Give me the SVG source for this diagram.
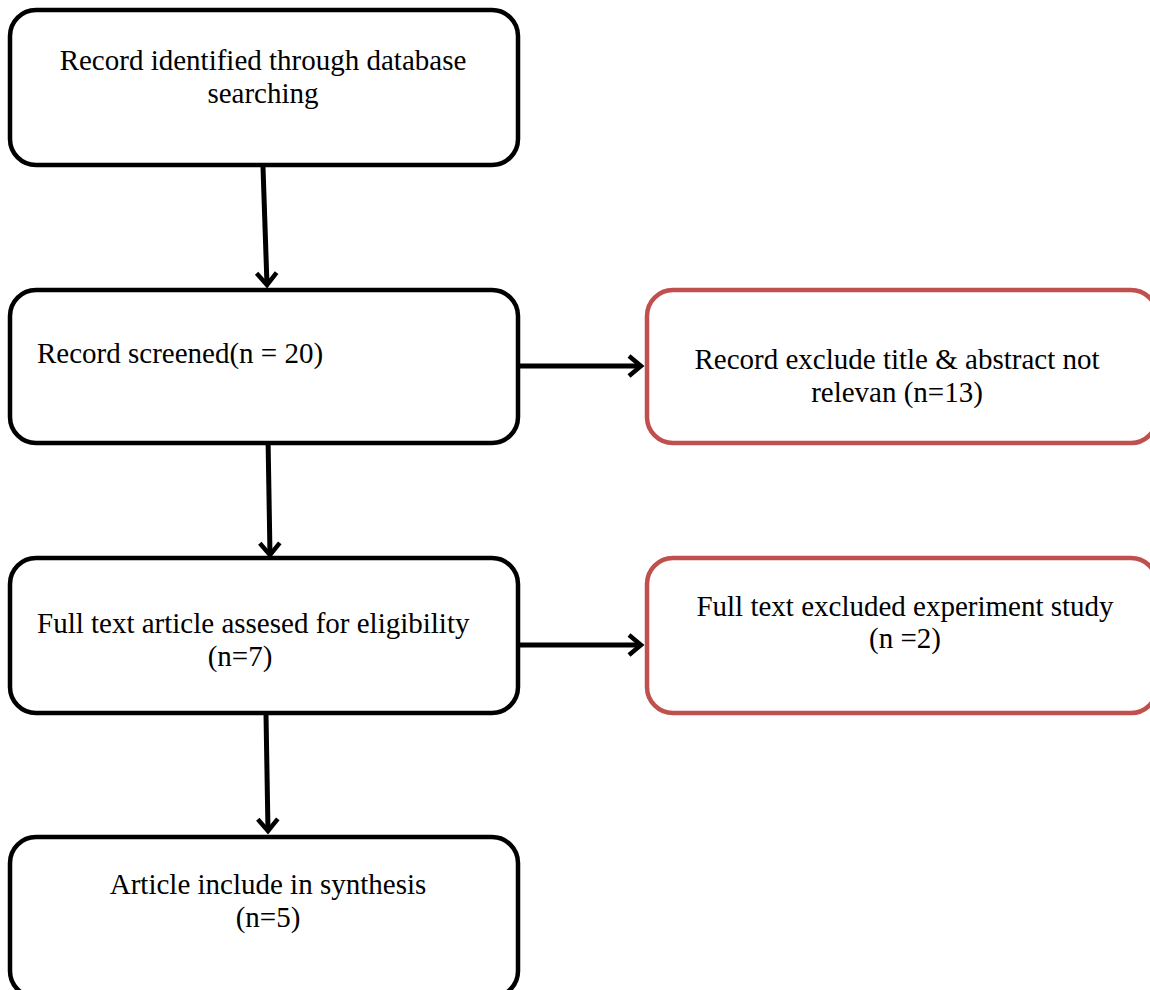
<svg xmlns="http://www.w3.org/2000/svg" width="1150" height="990" viewBox="0 0 1150 990">
<style>
.box{fill:#fff;stroke:#000;stroke-width:4.5}
.red{fill:#fff;stroke:#C0504D;stroke-width:4.5}
.t{font-family:"Liberation Serif","Times New Roman",serif;font-size:29px;fill:#000}
.c{text-anchor:middle}
.ln{stroke:#000;stroke-width:5;fill:none}
</style>
<defs>
<marker id="ah" markerWidth="10" markerHeight="10" refX="8" refY="5" orient="auto" markerUnits="userSpaceOnUse" viewBox="0 0 10 10" overflow="visible">
<path d="M-4,-5 L8,5 L-4,15" fill="none" stroke="#000" stroke-width="4.5"/>
</marker>
</defs>
<rect width="1150" height="990" fill="#fff"/>
<g id="connectors">
<line class="ln" x1="263" y1="167" x2="267" y2="285" marker-end="url(#ah)"/>
<line class="ln" x1="268" y1="437" x2="270" y2="555" marker-end="url(#ah)"/>
<line class="ln" x1="266" y1="714" x2="268" y2="831" marker-end="url(#ah)"/>
<line class="ln" x1="520" y1="366" x2="641" y2="366" marker-end="url(#ah)"/>
<line class="ln" x1="520" y1="645" x2="641" y2="645" marker-end="url(#ah)"/>
</g>
<g id="n1">
<rect class="box" x="10" y="10" width="508" height="155" rx="26"/>
<text class="t c" x="263" y="70">Record identified through database</text>
<text class="t c" x="263" y="103">searching</text>
</g>
<g id="n2">
<rect class="box" x="10" y="290" width="508" height="153" rx="26"/>
<text class="t" x="37" y="363">Record screened(n = 20)</text>
</g>
<g id="n3">
<rect class="red" x="647" y="290" width="510" height="153" rx="26"/>
<text class="t c" x="897" y="369">Record exclude title &amp; abstract not</text>
<text class="t c" x="897" y="402">relevan (n=13)</text>
</g>
<g id="n4">
<rect class="box" x="10" y="558" width="508" height="155" rx="26"/>
<text class="t" x="37" y="633">Full text article assesed for eligibility</text>
<text class="t c" x="240" y="666">(n=7)</text>
</g>
<g id="n5">
<rect class="red" x="647" y="558" width="510" height="155" rx="26"/>
<text class="t c" x="905" y="616">Full text excluded experiment study</text>
<text class="t c" x="905" y="648">(n =2)</text>
</g>
<g id="n6">
<rect class="box" x="10" y="837" width="508" height="160" rx="26"/>
<text class="t c" x="268" y="894">Article include in synthesis</text>
<text class="t c" x="268" y="927">(n=5)</text>
</g>
</svg>
